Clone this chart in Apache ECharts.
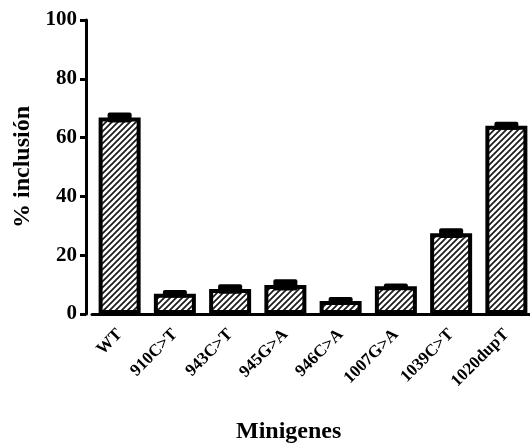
<!DOCTYPE html>
<html>
<head>
<meta charset="utf-8">
<script src="https://cdn.jsdelivr.net/npm/echarts@6/dist/echarts.min.js"></script>
<style>html,body{margin:0;padding:0;background:#fff}#c{width:530px;height:443px}</style>
</head>
<body>
<div id="c"></div>
<script>
var categories = ['WT', '910C>T', '943C>T', '945G>A', '946C>A', '1007G>A', '1039C>T', '1020dupT'];
var values = [66.8, 6.9, 8.5, 9.9, 4.4, 9.4, 27.5, 64.0];
var errors = [0.85, 0.4, 0.8, 1.05, 0.5, 0.15, 0.8, 0.5];
var yTicks = [0, 20, 40, 60, 80, 100];

var FONT = "'Liberation Serif', 'Times New Roman', serif";

function makeHatch() {
  var s = 6;
  var cv = document.createElement('canvas');
  cv.width = s; cv.height = s;
  var ctx = cv.getContext('2d');
  ctx.fillStyle = '#fff';
  ctx.fillRect(0, 0, s, s);
  ctx.strokeStyle = '#1a1a1a';
  ctx.lineWidth = 1.7;
  ctx.beginPath();
  ctx.moveTo(-1, s + 1); ctx.lineTo(s + 1, -1);
  ctx.moveTo(-1, 1); ctx.lineTo(1, -1);
  ctx.moveTo(s - 1, s + 1); ctx.lineTo(s + 1, s - 1);
  ctx.stroke();
  return cv;
}

var chart = echarts.init(document.getElementById('c'), null, {renderer: 'canvas'});
var errData = values.map(function (v, i) { return [i, v, errors[i]]; });

chart.setOption({
  animation: false,
  backgroundColor: '#fff',
  title: {
    text: 'Minigenes',
    left: 231, top: 415,
    textStyle: {fontFamily: FONT, fontWeight: 'bold', fontSize: 24, color: '#000'}
  },
  grid: {left: 92, right: -4, top: 20, bottom: 129, containLabel: false, outerBoundsMode: 'none'},
  xAxis: {
    type: 'category',
    data: categories,
    axisLine: {lineStyle: {color: '#000', width: 3}},
    axisTick: {alignWithLabel: true, length: 6, lineStyle: {color: '#000', width: 3}},
    axisLabel: {rotate: 45, margin: 18, fontFamily: FONT, fontWeight: 'bold', fontSize: 17, color: '#000', interval: 0}
  },
  yAxis: {
    type: 'value',
    min: 0, max: 100, interval: 20,
    offset: 6,
    name: '% inclusión',
    nameLocation: 'middle',
    nameRotate: 90,
    nameGap: 50,
    nameTextStyle: {fontFamily: FONT, fontWeight: 'bold', fontSize: 24, color: '#000'},
    axisLine: {show: true, lineStyle: {color: '#000', width: 3}},
    axisTick: {show: true, length: 6, lineStyle: {color: '#000', width: 3}},
    axisLabel: {margin: 9, fontFamily: FONT, fontWeight: 'bold', fontSize: 21, color: '#000',
      formatter: function (v) { return yTicks.indexOf(v) >= 0 ? String(v) : ''; }},
    splitLine: {show: false}
  },
  series: [
    {
      type: 'bar',
      data: values,
      barWidth: 42,
      itemStyle: {
        color: {image: makeHatch(), repeat: 'repeat'},
        borderColor: '#000',
        borderWidth: 4
      },
      z: 2
    },
    {
      type: 'custom',
      data: errData,
      z: 3,
      renderItem: function (params, api) {
        var i = api.value(0), v = api.value(1), e = api.value(2);
        var top = api.coord([i, v + e]);
        var bot = api.coord([i, v - e]);
        var w = 24;
        return {
          type: 'rect',
          shape: {x: top[0] - w / 2, y: top[1] - 2.5, width: w, height: (bot[1] - top[1]) + 5, r: 2},
          style: {fill: '#000'}
        };
      }
    }
  ]
});
</script>
</body>
</html>
